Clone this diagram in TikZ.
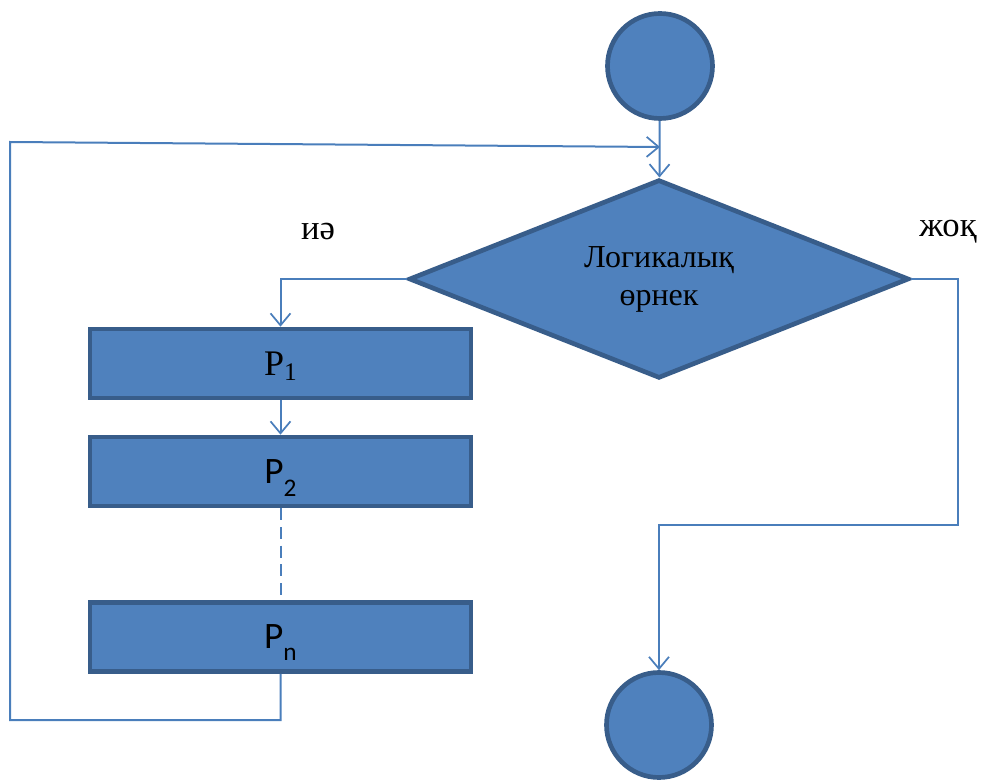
\documentclass[tikz,border=0pt]{standalone}
\usepackage{fontspec}
\setmainfont{Liberation Serif}
\newfontfamily\sansP{Carlito}
\usetikzlibrary{shapes.geometric,arrows.meta}
\definecolor{shapefill}{HTML}{4F81BD}
\definecolor{shapeline}{HTML}{385D8A}
\definecolor{flowline}{HTML}{4A7EBB}
\newcommand{\subidx}[2]{\smash{\raisebox{-#1}{\fontsize{19}{19}\selectfont #2}}}
\tikzset{
  blk/.style={draw=shapeline,fill=shapefill,line width=3.5pt,
    minimum width=285.75pt,minimum height=51.75pt,inner sep=0pt,
    font=\fontsize{27}{28}\selectfont},
  sansblk/.style={blk,font=\sansP\fontsize{28}{28}\selectfont},
  term/.style={circle,draw=shapeline,fill=shapefill,line width=3.5pt,
    minimum size=78.75pt,inner sep=0pt},
  cond/.style={diamond,aspect=2.55,draw=shapeline,fill=shapefill,line width=3.5pt,
    minimum width=375pt,minimum height=149pt,inner sep=0pt,
    font=\fontsize{24}{28.5}\selectfont},
  flow/.style={draw=flowline,line width=1.5pt},
  tip/.style={-{Straight Barb[length=9pt,width=15pt,line width=1.3pt]}}
}
\begin{document}
\begin{tikzpicture}[x=0.75pt,y=-0.75pt]
	\useasboundingbox (0,0) rectangle (983,781);
	%Nodes
	\node[term] (start) at (660,66) {};
	\node[cond] (logic) at (659,279) {\raisebox{-3pt}{\begin{tabular}{@{}c@{}}Логикалық\\өрнек\end{tabular}}};
	\node[blk] (P1) at (280.5,363.5) {P\subidx{4pt}{1}};
	\node[sansblk] (P2) at (280.5,471.5) {P\subidx{9.5pt}{2}};
	\node[sansblk] (Pn) at (280.5,637) {P\subidx{8.5pt}{n}};
	\node[term] (stop) at (659,725) {};
	%Labels
	\node[font=\fontsize{26}{28}\selectfont] (yes) at (318,232) {иә};
	\node[font=\fontsize{26}{28}\selectfont] (no) at (948,232) {жоқ};
	%Corners
	\coordinate (loopB) at (10,720);
	\coordinate (loopT) at (10,142);
	\coordinate (loopE) at (660,147);
	\coordinate (noC) at (958,525);
	%Arrows
	\draw[flow,tip] (start) -- (logic);
	\draw[flow,tip] (logic.west) -| (P1.north);
	\draw[flow,tip] (P1) -- (P2);
	\draw[flow,dashed,dash pattern=on 9pt off 5pt] (P2) -- (Pn);
	\draw[flow,tip] (Pn.south) |- (loopB) -- (loopT) -- (loopE);
	\draw[flow,tip] (logic.east) -| (noC) -| (stop.north);
\end{tikzpicture}
\end{document}
